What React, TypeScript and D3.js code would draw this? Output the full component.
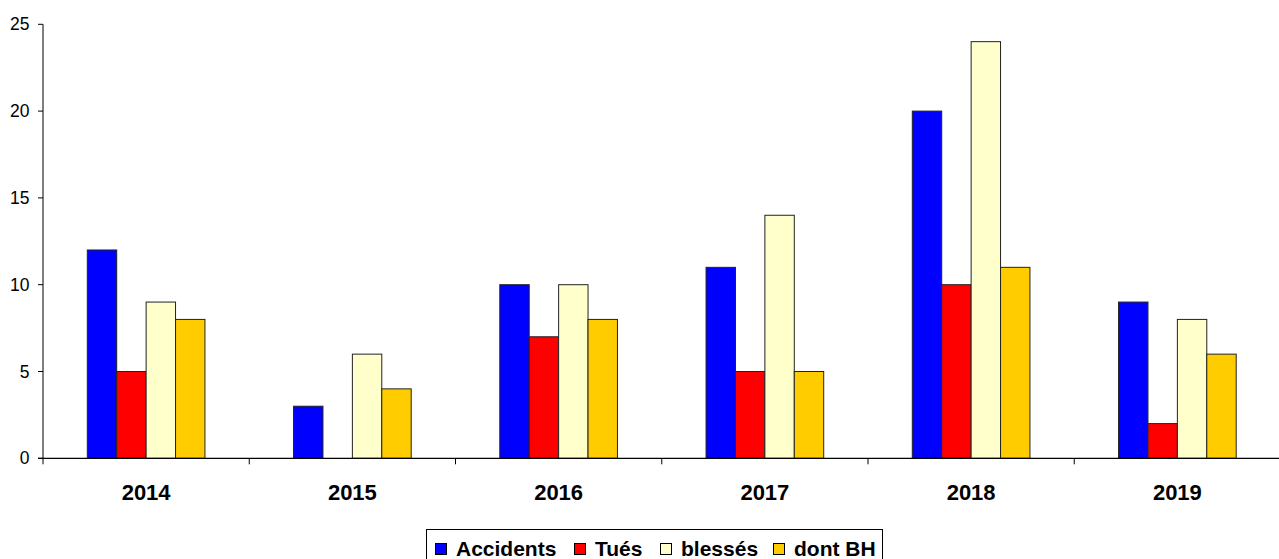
import React from "react";
import * as d3 from "d3";

const years = ["2014", "2015", "2016", "2017", "2018", "2019"];
const seriesNames = ["Accidents", "Tués", "blessés", "dont BH"];
const seriesColors = ["#0000FF", "#FF0000", "#FFFFCC", "#FFCC00"];
const accidents = [12, 3, 10, 11, 20, 9];
const tues = [5, 0, 7, 5, 10, 2];
const blesses = [9, 6, 10, 14, 24, 8];
const dontBH = [8, 4, 8, 5, 11, 6];
const yTicks = [0, 5, 10, 15, 20, 25];

const seriesValues = [accidents, tues, blesses, dontBH];

export default function App() {
  const W = 1279, H = 559;
  const left = 43, right = 43 + 6 * 206.25, top = 24.3, bottom = 458.3;
  const x = d3.scaleBand<string>().domain(years).range([left, right]).paddingInner(0).paddingOuter(0);
  const y = d3.scaleLinear().domain([0, 25]).range([bottom, top]);
  const groupPad = 44.3;
  const xs = d3.scaleBand<string>().domain(seriesNames).range([groupPad, x.bandwidth() - groupPad]).padding(0);
  const font = "'Liberation Sans', Arial, sans-serif";
  const swatchX = [435, 574, 660, 773];
  return (
    <svg width={W} height={H} style={{ position: "absolute", left: 0, top: 0, background: "#fff" }} fontFamily={font}>
      {/* bars */}
      {years.map((yr, i) => (
        <g key={yr}>
          {seriesValues.map((vals, s) => {
            const v = vals[i];
            if (v <= 0) return null;
            const bx = (x(yr) as number) + (xs(seriesNames[s]) as number);
            return (
              <rect key={s} x={bx} y={y(v)} width={xs.bandwidth()} height={bottom - y(v)}
                fill={seriesColors[s]} stroke="#222" strokeWidth={1} />
            );
          })}
        </g>
      ))}
      {/* y axis */}
      <line x1={left} x2={left} y1={top} y2={bottom} stroke="#000" strokeWidth={1} />
      {yTicks.map((t) => (
        <g key={t}>
          <line x1={left - 5} x2={left} y1={y(t)} y2={y(t)} stroke="#000" />
          <text x={29.5} y={y(t) + 6} textAnchor="end" fontSize={17.5}>{t}</text>
        </g>
      ))}
      {/* x axis */}
      <line x1={left - 5} x2={W} y1={bottom} y2={bottom} stroke="#000" strokeWidth={1.2} />
      {d3.range(7).map((k) => {
        const tx = left + k * x.step();
        return <line key={k} x1={tx} x2={tx} y1={bottom} y2={bottom + 6} stroke="#000" />;
      })}
      {years.map((yr) => (
        <text key={yr} x={(x(yr) as number) + x.bandwidth() / 2} y={500} textAnchor="middle"
          fontSize={22} fontWeight="bold">{yr}</text>
      ))}
      {/* legend */}
      <rect x={426.5} y={529.5} width={456} height={40} fill="#fff" stroke="#000" strokeWidth={1} />
      {seriesNames.map((n, s) => (
        <g key={n}>
          <rect x={swatchX[s] + 0.5} y={543.5} width={11} height={11} fill={seriesColors[s]} stroke="#000" />
          <text x={swatchX[s] + 21} y={556} fontSize={21} fontWeight="bold">{n}</text>
        </g>
      ))}
    </svg>
  );
}
